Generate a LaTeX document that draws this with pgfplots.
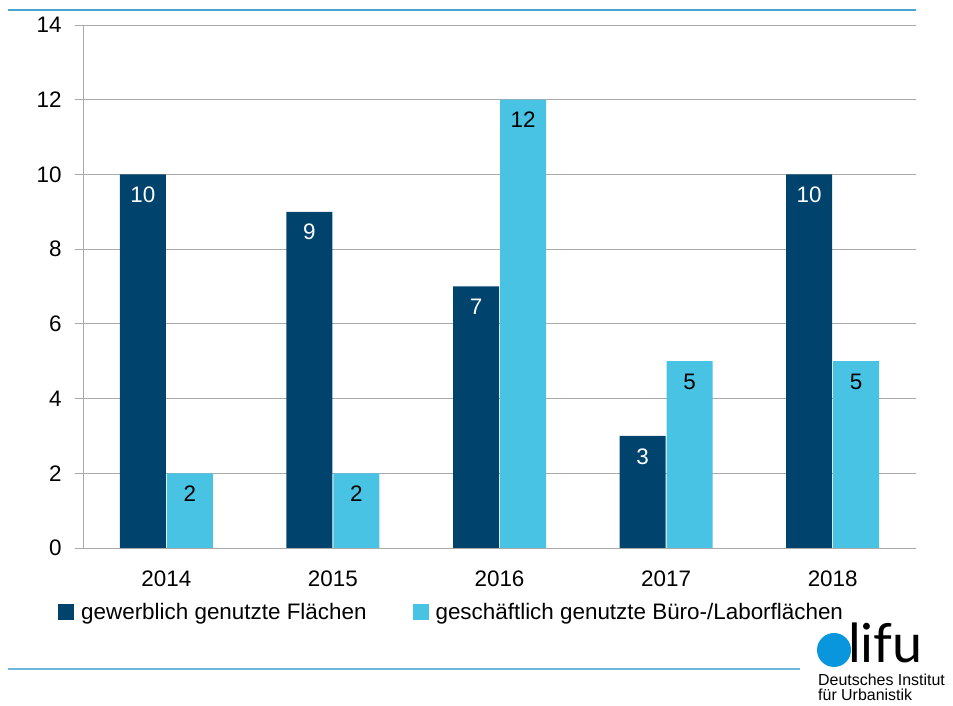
\documentclass[border=0pt]{standalone}
\usepackage{fontspec}
\setmainfont{Liberation Sans}
\newfontfamily\logofont{Lato}
\usepackage{pgfplots}
\pgfplotsset{compat=1.18}
\definecolor{darkb}{RGB}{0,68,110}
\definecolor{lightb}{RGB}{72,195,228}
\definecolor{rule}{RGB}{70,165,210}
\definecolor{gridc}{RGB}{170,170,170}
\definecolor{logob}{RGB}{10,150,220}
\begin{document}
\begin{tikzpicture}[x=1bp,y=1bp,font=\fontsize{22.5}{26}\selectfont]
\path[use as bounding box] (0,0) rectangle (953,706);
\draw[rule,line width=1.2bp] (8,696) -- (916,696);
\draw[rule!80,line width=1.2bp] (8,37) -- (800,37);
\begin{axis}[
  at={(83bp,158bp)}, anchor=south west,
  scale only axis, width=833bp, height=523bp,
  ymin=0, ymax=14, ytick={0,2,...,14},
  xmin=-0.5, xmax=4.5,
  xtick={0,1,2,3,4},
  xticklabels={2014,2015,2016,2017,2018},
  extra x ticks={-0.5,0.5,1.5,2.5,3.5,4.5},
  extra x tick labels={},
  extra x tick style={major tick length=8bp, tick style={gridc, line width=0.8bp}, grid=none},
  x tick style={draw=none},
  y tick style={gridc, line width=0.8bp},
  major tick length=8bp,
  tick align=outside,
  axis lines*=left,
  axis line style={gridc, line width=0.8bp},
  ymajorgrids, grid style={gridc, line width=0.8bp},
  /pgf/number format/assume math mode=true,
  yticklabel style={xshift=-10bp},
  xticklabel style={yshift=-11bp},
  ybar=1bp, bar width=46bp,
  nodes near coords,
  every node near coord/.append style={anchor=north, yshift=-9bp, font=\fontsize{22.5}{26}\selectfont},
  legend columns=2,
  legend style={draw=none, fill=none, at={(-0.030,-0.1224)}, anchor=west, inner sep=0pt,
    font=\fontsize{22.5}{26}\selectfont,
    /tikz/every even column/.append style={column sep=44bp},
    /tikz/every odd column/.append style={column sep=5bp}},
  legend cell align=left,
]
\addplot[fill=darkb, draw=none, every node near coord/.append style={text=white},
  legend image code/.code={\fill[darkb] (0bp,-8bp) rectangle (16bp,8bp);}]
  coordinates {(0,10) (1,9) (2,7) (3,3) (4,10)};
\addplot[fill=lightb, draw=none, every node near coord/.append style={text=black},
  legend image code/.code={\fill[lightb] (0bp,-8bp) rectangle (16bp,8bp);}]
  coordinates {(0,2) (1,2) (2,12) (3,5) (4,5)};
\legend{gewerblich genutzte Flächen, geschäftlich genutzte Büro-/Laborflächen}
\end{axis}
\fill[logob] (834,56) circle (17);
\node[anchor=base west, inner sep=0, font=\logofont\fontsize{54}{54}\selectfont] at (848,43) {lifu};
\node[anchor=base west, inner sep=0, font=\fontsize{16}{18}\selectfont] at (818,20) {Deutsches Institut};
\node[anchor=base west, inner sep=0, font=\fontsize{16}{18}\selectfont] at (818,5) {für Urbanistik};
\end{tikzpicture}
\end{document}
